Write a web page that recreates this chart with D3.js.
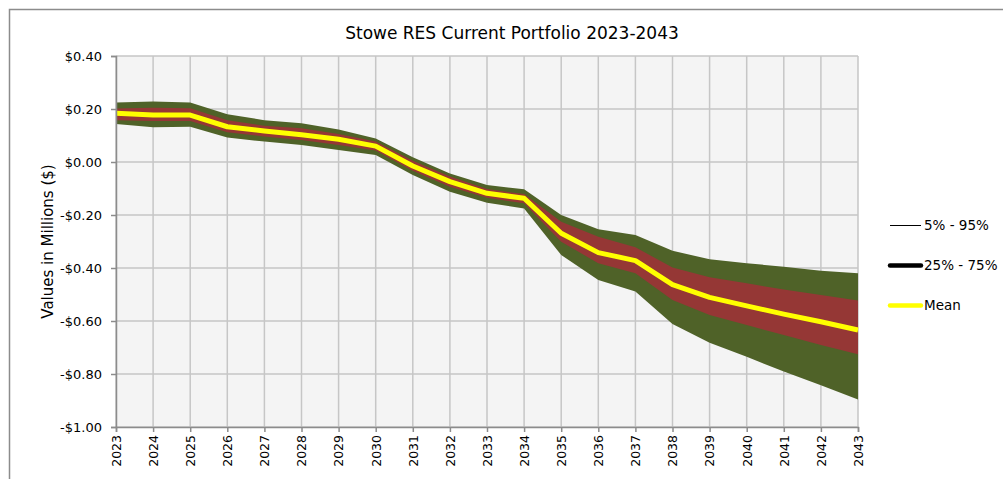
<!DOCTYPE html>
<html>
<head>
<meta charset="utf-8">
<script src="https://cdn.jsdelivr.net/npm/d3@7"></script>
<style>
  html, body { margin: 0; padding: 0; background: #ffffff; }
  svg { display: block; font-family: "DejaVu Sans", sans-serif; }
</style>
</head>
<body>
<svg id="chart" width="1003" height="479"></svg>
<script>
// Simulated portfolio value ranges, in millions of dollars
const years = [2023, 2024, 2025, 2026, 2027, 2028, 2029, 2030, 2031, 2032, 2033,
               2034, 2035, 2036, 2037, 2038, 2039, 2040, 2041, 2042, 2043];
const p95  = [0.225, 0.228, 0.225, 0.180, 0.158, 0.146, 0.123, 0.089, 0.018, -0.043, -0.087,
              -0.103, -0.200, -0.254, -0.275, -0.335, -0.367, -0.382, -0.395, -0.410, -0.420];
const p75  = [0.202, 0.205, 0.203, 0.158, 0.137, 0.127, 0.106, 0.077, 0.005, -0.055, -0.102,
              -0.121, -0.225, -0.282, -0.322, -0.398, -0.435, -0.458, -0.481, -0.502, -0.523];
const mean = [0.184, 0.177, 0.177, 0.133, 0.117, 0.103, 0.086, 0.060, -0.015, -0.074, -0.118,
              -0.137, -0.269, -0.342, -0.372, -0.463, -0.511, -0.543, -0.574, -0.603, -0.634];
const p25  = [0.158, 0.155, 0.155, 0.112, 0.096, 0.083, 0.064, 0.043, -0.033, -0.093, -0.135,
              -0.156, -0.301, -0.382, -0.420, -0.521, -0.577, -0.615, -0.653, -0.691, -0.725];
const p5   = [0.143, 0.131, 0.133, 0.092, 0.077, 0.064, 0.045, 0.026, -0.049, -0.112, -0.154,
              -0.175, -0.351, -0.445, -0.489, -0.611, -0.682, -0.735, -0.791, -0.842, -0.896];
const yTicks = [0.4, 0.2, 0, -0.2, -0.4, -0.6, -0.8, -1.0];
const legendLabels = ["5% - 95%", "25% - 75%", "Mean"];
const titleText = "Stowe RES Current Portfolio 2023-2043";
const yTitle = "Values in Millions ($)";

const svg = d3.select("#chart");
const plot = { left: 116, right: 858, top: 56, bottom: 427 };

const x = d3.scaleLinear().domain([2023, 2043]).range([plot.left, plot.right]);
const y = d3.scaleLinear().domain([-1.0, 0.4]).range([plot.bottom, plot.top]);

const rows = years.map((yr, i) => ({ yr, p95: p95[i], p75: p75[i], mean: mean[i], p25: p25[i], p5: p5[i] }));

// Outer chart frame
svg.append("rect")
  .attr("x", 9.5).attr("y", 9.5).attr("width", 1010).attr("height", 480)
  .attr("fill", "#ffffff").attr("stroke", "#8c8c8c").attr("stroke-width", 1.5);

// Title
svg.append("text")
  .attr("x", 512).attr("y", 39)
  .attr("text-anchor", "middle")
  .attr("font-size", 17).attr("fill", "#000")
  .text(titleText);

// Plot background
svg.append("rect")
  .attr("x", plot.left).attr("y", plot.top)
  .attr("width", plot.right - plot.left).attr("height", plot.bottom - plot.top)
  .attr("fill", "#f4f4f4");

// Gridlines
const grid = svg.append("g").attr("stroke", "#c6c6c6").attr("stroke-width", 1.5);
grid.selectAll("line.h").data(yTicks).join("line")
  .attr("x1", plot.left).attr("x2", plot.right)
  .attr("y1", d => y(d)).attr("y2", d => y(d));
grid.selectAll("line.v").data(years).join("line")
  .attr("x1", d => x(d)).attr("x2", d => x(d))
  .attr("y1", plot.top).attr("y2", plot.bottom);

// Bands and mean line
const area = (lo, hi) => d3.area().x(d => x(d.yr)).y0(d => y(d[lo])).y1(d => y(d[hi]));
svg.append("path").datum(rows).attr("d", area("p5", "p95")).attr("fill", "#4f6228");
svg.append("path").datum(rows).attr("d", area("p25", "p75")).attr("fill", "#953735");
svg.append("path").datum(rows)
  .attr("d", d3.line().x(d => x(d.yr)).y(d => y(d.mean)))
  .attr("fill", "none").attr("stroke", "#ffff00").attr("stroke-width", 5)
  .attr("stroke-linejoin", "round");

// Axes
const fmt = v => (v < 0 ? "-$" : "$") + Math.abs(v).toFixed(2);
const yAxis = svg.append("g")
  .attr("transform", `translate(${plot.left},0)`)
  .call(d3.axisLeft(y).tickValues(yTicks).tickFormat(fmt).tickSize(5).tickPadding(9));
yAxis.selectAll("text").attr("font-size", 13).attr("fill", "#000").attr("font-family", "DejaVu Sans");

const xAxis = svg.append("g")
  .attr("transform", `translate(0,${plot.bottom})`)
  .call(d3.axisBottom(x).tickValues(years).tickFormat(d3.format("d")).tickSize(5));
xAxis.selectAll("text")
  .attr("font-size", 12.5).attr("fill", "#000").attr("font-family", "DejaVu Sans")
  .attr("transform", "rotate(-90)")
  .attr("text-anchor", "end")
  .attr("x", -8).attr("y", 0).attr("dy", "0.35em");

[yAxis, xAxis].forEach(a => {
  a.select(".domain").attr("stroke", "#8c8c8c").attr("stroke-width", 1.5);
  a.selectAll(".tick line").attr("stroke", "#8c8c8c").attr("stroke-width", 1.5);
});

// Y axis title
svg.append("text")
  .attr("transform", `translate(53,${(plot.top + plot.bottom) / 2}) rotate(-90)`)
  .attr("text-anchor", "middle")
  .attr("font-size", 15).attr("fill", "#000")
  .text(yTitle);

// Legend
const legendStyles = [
  { stroke: "#000000", width: 1, cap: "butt" },
  { stroke: "#000000", width: 4.5, cap: "round" },
  { stroke: "#ffff00", width: 4.5, cap: "round" }
];
const legend = svg.append("g");
const legendY = d3.scalePoint().domain(legendLabels).range([225.5, 305.5]);
legendLabels.forEach((lab, i) => {
  const ly = legendY(lab);
  legend.append("line")
    .attr("x1", 890).attr("x2", 921).attr("y1", ly).attr("y2", ly)
    .attr("stroke", legendStyles[i].stroke)
    .attr("stroke-width", legendStyles[i].width)
    .attr("stroke-linecap", legendStyles[i].cap);
  legend.append("text")
    .attr("x", 924).attr("y", ly).attr("dy", "0.35em")
    .attr("font-size", 13.5).attr("fill", "#000")
    .text(lab);
});
</script>
</body>
</html>
